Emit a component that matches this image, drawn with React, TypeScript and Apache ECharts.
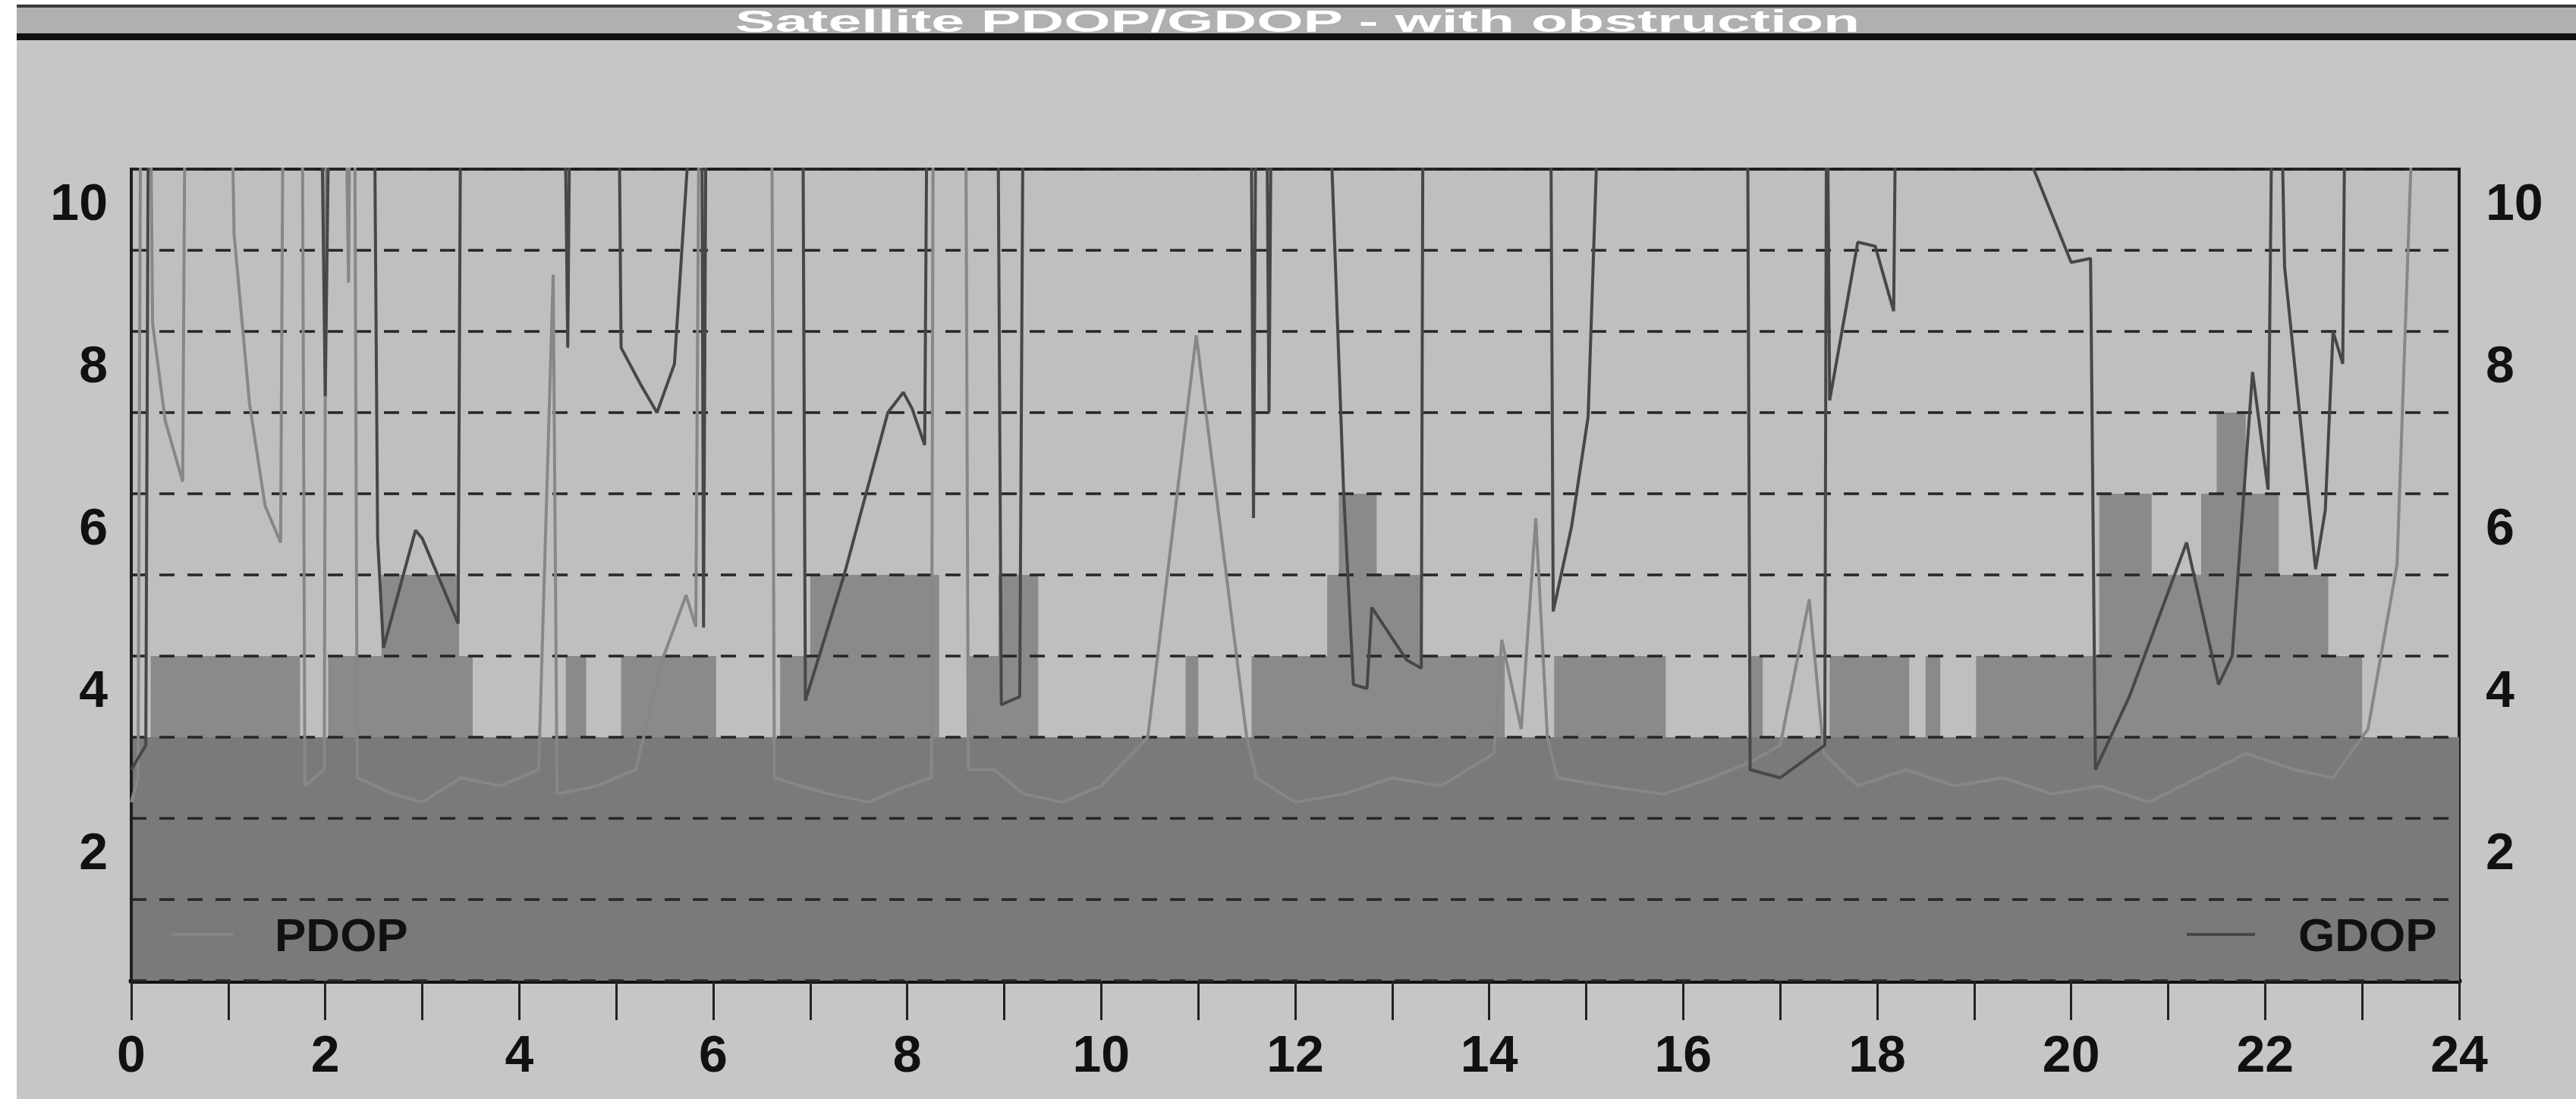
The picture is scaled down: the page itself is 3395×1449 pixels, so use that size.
import React, { useEffect, useRef } from "react";
import * as echarts from "echarts";

const W = 3395;
const H = 1449;

// Hour ticks and y ticks
const hourMin = 0;
const hourMax = 24;
const dopMin = 0;
const dopMax = 10;

// Step bars: start hour of each segment and its level (last entry closes the step)
const barStarts = [0, 0.2, 1.74, 2.03, 2.58, 3.38, 3.52, 4.48, 4.69, 5.05, 6.03, 6.69, 7.0, 8.33, 8.64, 8.94, 9.35, 10.87, 11.0, 11.55, 12.33, 12.45, 12.84, 13.31, 14.16, 14.67, 15.82, 16.69, 16.82, 17.51, 18.33, 18.5, 18.65, 19.02, 20.29, 20.83, 21.34, 21.5, 21.8, 22.14, 22.65, 23.0, 24];
const barLevels = [3, 4, 3, 4, 5, 4, 3, 4, 3, 4, 3, 4, 5, 3, 4, 5, 3, 4, 3, 4, 5, 6, 5, 4, 3, 4, 3, 4, 3, 4, 3, 4, 3, 4, 6, 5, 6, 7, 6, 5, 4, 3, 3];

// Constant lower band
const bandHours = [0, 24];
const bandLevels = [3, 3];

// PDOP (values above 10 run off the top of the chart)
const pdop: [number, number][] = [
  [0, 2.2], [0.07, 2.5], [0.1, 12], [0.19, 12], [0.22, 8.1], [0.35, 6.9], [0.53, 6.15], [0.56, 12],
  [1.02, 12], [1.06, 9.2], [1.22, 7.1], [1.38, 5.85], [1.54, 5.4], [1.57, 12],
  [1.76, 12], [1.79, 2.4], [1.99, 2.6], [2.01, 12], [2.2, 12], [2.24, 8.6], [2.26, 12], [2.3, 12], [2.33, 2.5],
  [2.7, 2.3], [3.0, 2.2], [3.4, 2.5], [3.8, 2.4], [4.2, 2.6], [4.35, 8.7], [4.39, 2.3], [4.8, 2.4], [5.2, 2.6],
  [5.48, 3.97], [5.72, 4.75], [5.82, 4.36], [5.86, 12],
  [6.6, 12], [6.63, 2.5], [6.9, 2.4], [7.2, 2.3], [7.6, 2.2], [8.0, 2.4], [8.25, 2.5], [8.27, 12],
  [8.6, 12], [8.63, 2.6], [8.9, 2.6], [9.2, 2.3], [9.6, 2.2], [10.0, 2.4], [10.48, 3.0], [10.98, 7.95], [11.5, 3.0],
  [11.6, 2.5], [12.0, 2.2], [12.5, 2.3], [13.0, 2.5], [13.5, 2.4], [14.05, 2.8], [14.13, 4.2], [14.33, 3.1],
  [14.48, 5.7], [14.6, 3.0], [14.7, 2.5], [15.2, 2.4], [15.8, 2.3], [16.3, 2.5], [16.7, 2.7], [17.0, 2.9],
  [17.3, 4.7], [17.45, 2.8], [17.8, 2.4], [18.3, 2.6], [18.8, 2.4], [19.3, 2.5], [19.8, 2.3], [20.3, 2.4],
  [20.8, 2.2], [21.3, 2.5], [21.8, 2.8], [22.3, 2.6], [22.7, 2.5], [23.06, 3.1], [23.36, 5.13], [23.56, 12], [24, 12],
];

// GDOP
const gdop: [number, number][] = [
  [0, 2.6], [0.15, 2.9], [0.18, 12], [1.95, 12], [2.0, 7.2], [2.05, 12],
  [2.5, 12], [2.54, 5.45], [2.6, 4.1], [2.93, 5.55], [3.0, 5.45], [3.37, 4.4], [3.4, 12],
  [4.46, 12], [4.5, 7.8], [4.53, 12], [5.02, 12], [5.05, 7.8], [5.25, 7.35], [5.42, 7.0], [5.6, 7.6], [5.84, 12],
  [5.88, 12], [5.9, 4.35], [5.93, 12], [6.92, 12], [6.95, 3.45], [7.35, 5.0], [7.8, 7.0], [7.96, 7.25],
  [8.05, 7.05], [8.18, 6.6], [8.21, 12], [8.93, 12], [8.97, 3.4], [9.16, 3.5], [9.2, 12],
  [11.54, 12], [11.57, 5.7], [11.6, 12], [11.7, 12], [11.73, 7.0], [11.76, 12],
  [12.32, 12], [12.43, 8.3], [12.5, 6.0], [12.6, 3.65], [12.74, 3.6], [12.79, 4.6], [13.15, 3.95], [13.3, 3.85], [13.32, 12],
  [14.63, 12], [14.66, 4.55], [14.85, 5.6], [15.02, 6.95], [15.16, 12],
  [16.66, 12], [16.69, 2.6], [17.0, 2.5], [17.46, 2.9], [17.48, 12], [17.51, 7.15], [17.8, 9.1], [17.98, 9.05], [18.17, 8.25], [18.2, 12],
  [19.5, 12], [19.58, 10.1], [20.0, 8.85], [20.2, 8.9], [20.25, 2.6], [20.6, 3.5], [21.19, 5.4], [21.52, 3.65],
  [21.66, 4.0], [21.87, 7.5], [22.03, 6.05], [22.08, 12], [22.15, 12], [22.2, 8.8], [22.52, 5.07], [22.62, 5.8],
  [22.7, 8.0], [22.8, 7.6], [22.83, 12], [24, 12],
];

const titleText = "Satellite PDOP/GDOP - with obstruction";
const FONT = "Liberation Sans";

export default function App() {
  const ref = useRef<HTMLDivElement>(null);
  useEffect(() => {
    if (!ref.current) return;
    const chart = echarts.init(ref.current, undefined, { renderer: "svg", width: W, height: H });
    const barData = barStarts.map((h, i) => [h, barLevels[i]]);
    const bandData = bandHours.map((h, i) => [h, bandLevels[i]]);
    const labelStyle = { fontSize: 68, fontWeight: "bold", fontFamily: FONT, color: "#111" };
    const option: any = {
      animation: false,
      backgroundColor: "#c6c6c6",
      grid: {
        left: 173, right: 154, top: 223, bottom: 156,
        show: true, backgroundColor: "#bfbfbf", borderColor: "#1e1e1e", borderWidth: 4,
      },
      xAxis: {
        type: "value", min: hourMin, max: hourMax, interval: 1,
        axisLine: { show: true, onZero: false, lineStyle: { color: "#111", width: 7 } },
        axisTick: { show: true, length: 52, lineStyle: { color: "#222", width: 3 } },
        axisLabel: { ...labelStyle, margin: 62, formatter: (v: number) => (v % 2 === 0 ? String(v) : "") },
        splitLine: { show: false },
      },
      yAxis: [
        {
          type: "value", min: dopMin, max: dopMax, interval: 1, position: "left", z: 2,
          axisLine: { show: true, lineStyle: { color: "#1e1e1e", width: 4 } },
          axisTick: { show: false },
          axisLabel: { ...labelStyle, margin: 31, verticalAlign: "top", padding: [9, 0, 0, 0],
            formatter: (v: number) => (v > 0 && v % 2 === 0 ? String(v) : "") },
          splitLine: { show: true, lineStyle: { color: "#262626", width: 3.5, type: [20, 17] } },
        },
        {
          type: "value", min: dopMin, max: dopMax, interval: 1, position: "right",
          axisLine: { show: true, lineStyle: { color: "#1e1e1e", width: 4 } },
          axisTick: { show: false },
          axisLabel: { ...labelStyle, margin: 35, align: "left", verticalAlign: "top", padding: [9, 0, 0, 0],
            formatter: (v: number) => (v > 0 && v % 2 === 0 ? String(v) : "") },
          splitLine: { show: false },
        },
      ],
      legend: [
        {
          data: ["PDOP"], left: 222, top: 1196, icon: "rect", itemWidth: 80, itemHeight: 4,
          textStyle: { fontSize: 62, fontWeight: "bold", fontFamily: FONT, color: "#111", padding: [0, 0, 0, 50] },
          selectedMode: false,
        },
        {
          data: ["GDOP"], left: 2877, top: 1196, icon: "rect", itemWidth: 90, itemHeight: 4,
          textStyle: { fontSize: 62, fontWeight: "bold", fontFamily: FONT, color: "#111", padding: [0, 0, 0, 52] },
          selectedMode: false,
        },
      ],
      graphic: [
        { type: "rect", shape: { x: 0, y: 0, width: 22, height: H }, style: { fill: "#ffffff" }, silent: true },
        { type: "rect", shape: { x: 0, y: 0, width: W, height: 6 }, style: { fill: "#ffffff" }, silent: true },
        { type: "rect", shape: { x: 22, y: 6, width: W - 22, height: 4 }, style: { fill: "#3a3a3a" }, silent: true },
        { type: "rect", shape: { x: 22, y: 10, width: W - 22, height: 34 }, style: { fill: "#b0b0b0" }, silent: true },
        { type: "rect", shape: { x: 22, y: 44, width: W - 22, height: 9 }, style: { fill: "#111111" }, silent: true },
        {
          type: "text", x: 1710, y: 28, scaleX: 1.97,
          style: { text: titleText, fill: "#ffffff", fontSize: 40, fontWeight: "bold", fontFamily: FONT, align: "center", verticalAlign: "middle" },
          silent: true,
        },
      ],
      series: [
        {
          name: "Visible", type: "line", step: "end", data: barData, symbol: "none", z: 1, silent: true,
          lineStyle: { width: 0 }, areaStyle: { color: "#8a8a8a", opacity: 1 },
        },
        {
          name: "Band", type: "line", data: bandData, symbol: "none", z: 1, silent: true,
          lineStyle: { width: 0 }, areaStyle: { color: "#7a7a7a", opacity: 1 },
        },
        {
          name: "PDOP", type: "line", data: pdop, symbol: "none", z: 3, clip: true,
          color: "#878787", lineStyle: { color: "#878787", width: 4 },
        },
        {
          name: "GDOP", type: "line", data: gdop, symbol: "none", z: 3, clip: true,
          color: "#474747", lineStyle: { color: "#474747", width: 4 },
        },
      ],
    };
    chart.setOption(option);
    return () => chart.dispose();
  }, []);
  return <div ref={ref} style={{ position: "fixed", left: 0, top: 0, width: W, height: H }} />;
}
